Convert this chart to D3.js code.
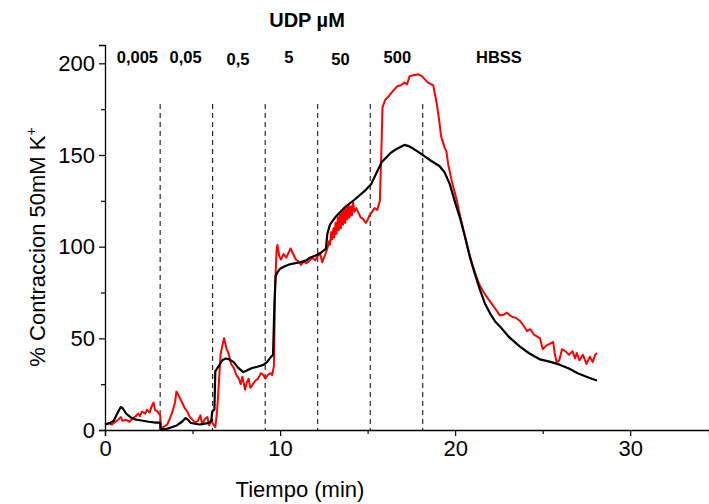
<!DOCTYPE html>
<html>
<head>
<meta charset="utf-8">
<script src="https://cdn.jsdelivr.net/npm/d3@7"></script>
<style>
  body { margin: 0; background: #fff; }
  text { font-family: "Liberation Sans", Arial, sans-serif; }
</style>
</head>
<body>
<svg id="chart" width="709" height="504"></svg>
<script>
// tiempo (min), % contraccion
var black_trace = [[0,3],[0.3,4],[0.5,5],[0.7,9],[0.9,12.5],[1.0,12],[1.2,9],[1.45,7],[1.7,5.8],[2.0,5.3],[2.5,4.5],[2.9,4],[3.15,4],[3.17,0.5],[3.5,0.5],[3.8,1.5],[4.1,2.5],[4.4,4.5],[4.6,6.5],[4.75,5.5],[4.9,3.8],[5.4,3],[5.8,3.6],[6.0,4.2],[6.08,5.5],[6.12,10],[6.2,11],[6.25,11],[6.3,32],[6.5,35],[6.7,38],[6.9,39],[7.1,38.5],[7.35,37],[7.6,34],[7.9,31.6],[8.1,32.5],[8.4,33.8],[8.7,34.5],[9.05,35.5],[9.25,37],[9.45,39.5],[9.6,41],[9.68,70],[9.75,84],[9.85,86],[10,88],[10.3,89.5],[10.6,90.5],[11.15,91.5],[11.5,92.5],[11.7,94],[12.0,95],[12.3,96.5],[12.5,98],[12.62,99],[12.7,107],[12.85,112],[13.15,116],[13.7,121.5],[14.3,126],[14.9,131],[15.2,134],[15.5,140],[15.8,146],[16.3,151],[16.6,153],[17.1,155.5],[17.3,155],[17.6,153.5],[18.0,151],[18.3,149],[18.6,147],[19.1,144],[19.4,140.5],[19.7,134],[20.0,124],[20.3,115],[20.6,104],[20.85,94],[21.1,86],[21.4,77],[21.7,69],[22.0,63.5],[22.3,59],[22.6,56],[23.1,50.5],[23.7,45.5],[24.2,42],[24.85,38.5],[25.5,37],[26.0,35.5],[26.5,33.5],[27.0,31],[27.5,29],[27.8,28],[28.1,27]];

var red_trace = [[0,3],[0.2,3.5],[0.4,3],[0.6,4.5],[0.8,6],[0.9,7],[1.0,5],[1.2,5.5],[1.4,4.5],[1.6,6.5],[1.75,7.5],[1.9,9],[2.0,7.5],[2.1,10],[2.3,9],[2.4,11],[2.55,9.5],[2.65,12.5],[2.77,15],[2.85,11],[3.0,10],[3.15,8],[3.2,1],[3.4,2],[3.55,3],[3.7,6],[3.85,10],[4.0,15],[4.08,21],[4.2,19],[4.4,15],[4.55,12],[4.7,10],[4.85,7],[5.0,5.5],[5.15,4],[5.3,5],[5.45,8],[5.55,3],[5.7,6],[5.85,7],[5.95,2.5],[6.05,5],[6.2,3],[6.3,1.5],[6.4,10],[6.5,25],[6.6,41],[6.7,46],[6.8,50],[6.85,48],[6.95,44],[7.05,42],[7.2,36],[7.35,34],[7.5,30],[7.65,28],[7.75,25],[7.85,29],[8.0,22],[8.1,26],[8.2,28],[8.3,23],[8.45,25],[8.6,27],[8.75,28],[8.9,31],[9.05,30],[9.15,28],[9.3,30],[9.45,31],[9.55,30],[9.65,35],[9.72,80],[9.8,98],[9.85,101],[9.95,95],[10.05,93],[10.2,96],[10.35,94],[10.5,97],[10.6,99],[10.75,96],[10.9,93],[11.05,92],[11.2,90],[11.35,92],[11.5,91],[11.7,92.5],[11.85,94],[12.0,92.5],[12.15,95],[12.3,96],[12.4,91.5],[12.55,95],[12.7,99],[12.8,103],[12.85,101],[12.92,108],[12.98,104],[13.05,110],[13.1,105],[13.17,113],[13.22,107],[13.3,116],[13.35,109],[13.42,118],[13.47,110],[13.55,120],[13.6,112],[13.67,121],[13.72,113],[13.8,122],[13.85,115],[13.92,123],[13.97,116],[14.05,122],[14.1,117],[14.17,124],[14.25,119],[14.35,121],[14.45,119],[14.6,116],[14.75,115],[14.9,113],[15.0,114.5],[15.1,117],[15.25,119],[15.4,121],[15.55,120],[15.7,125],[15.78,150],[15.85,176],[16.0,180],[16.2,182],[16.45,185],[16.7,187.5],[16.9,188],[17.1,189.5],[17.25,188.5],[17.4,193],[17.6,193.5],[17.9,194],[18.1,193],[18.3,191],[18.45,189.5],[18.75,188],[18.85,183],[18.95,178],[19.1,168],[19.2,160],[19.3,157],[19.4,154],[19.5,152],[19.6,145],[19.8,136],[20.1,125],[20.3,116],[20.45,110],[20.7,100],[20.96,91],[21.2,84],[21.4,79],[21.7,74],[22.0,70],[22.3,66],[22.55,62.5],[22.8,63],[22.95,64],[23.2,62],[23.5,61],[23.7,59.5],[23.9,57],[24.1,54],[24.3,55],[24.5,52],[24.85,50],[25.0,44],[25.2,46],[25.4,47],[25.6,48],[25.7,41],[25.8,37],[25.95,38],[26.1,44],[26.3,43],[26.5,41],[26.7,43],[26.85,39],[26.95,42],[27.1,38],[27.3,41],[27.5,36],[27.7,40],[27.85,37],[28.0,41],[28.1,42]];

// momentos de adicion (lineas discontinuas)
var additions = [3.15, 6.15, 9.15, 12.15, 15.15, 18.15];
var dose_labels = ["0,005", "0,05", "0,5", "5", "50", "500", "HBSS"];
var dose_times = [1.85, 4.6, 7.6, 10.5, 13.45, 16.7, 22.5];

var x_ticks = [0, 10, 20, 30];
var x_minor = [5, 15, 25];
var y_ticks = [0, 50, 100, 150, 200];
var y_minor = [25, 75, 125, 175];

var margin_left = 105
var axis_y = 430

var svg = d3.select("#chart")

var x = d3.scaleLinear().domain([0, 34.5]).range([margin_left, 709])
var y = d3.scaleLinear().domain([0, 210]).range([axis_y, 45])

/*******
* ejes *
*******/
var gx = svg.append("g").attr("transform", "translate(0," + axis_y + ")")
gx.call(d3.axisBottom(x).tickValues(x_ticks).tickSize(6).tickPadding(4).tickFormat(d3.format("d")))
gx.append("g").call(d3.axisBottom(x).tickValues(x_minor).tickSize(4).tickFormat(""))
gx.selectAll(".domain").attr("stroke", "#000").attr("stroke-width", 1.3)
gx.selectAll("text").attr("font-size", 22).attr("fill", "#000").attr("font-family", "Liberation Sans, Arial, sans-serif")
gx.selectAll("line").attr("stroke-width", 1.2)
gx.selectAll("g > g .domain").remove()

var gy = svg.append("g").attr("transform", "translate(" + margin_left + ",0)")
gy.call(d3.axisLeft(y).tickValues(y_ticks).tickSize(6).tickPadding(4).tickFormat(d3.format("d")))
gy.append("g").call(d3.axisLeft(y).tickValues(y_minor).tickSize(4).tickFormat(""))
gy.selectAll(".domain").attr("stroke", "#000").attr("stroke-width", 1.3)
gy.selectAll("text").attr("font-size", 22).attr("fill", "#000").attr("font-family", "Liberation Sans, Arial, sans-serif")
gy.selectAll("line").attr("stroke-width", 1.2)
gy.selectAll("g > g .domain").remove()

svg.append("text")
  .attr("x", 300).attr("y", 497)
  .attr("text-anchor", "middle")
  .attr("font-size", 22)
  .text("Tiempo (min)")

var ylab = svg.append("text")
  .attr("transform", "translate(45,247) rotate(-90)")
  .attr("text-anchor", "middle")
  .attr("font-size", 22)
ylab.append("tspan").text("% Contraccion 50mM K")
ylab.append("tspan").attr("dy", -9).attr("font-size", 14).text("+")

/*********
* marcas *
*********/
svg.append("g")
  .selectAll("line")
  .data(additions)
  .enter()
  .append("line")
  .attr("x1", d => x(d)).attr("x2", d => x(d))
  .attr("y1", 104).attr("y2", axis_y)
  .attr("stroke", "#000")
  .attr("stroke-width", 1)
  .attr("stroke-dasharray", "5,4")

svg.append("g")
  .selectAll("text")
  .data(dose_labels)
  .enter()
  .append("text")
  .attr("x", (d, i) => x(dose_times[i]))
  .attr("y", (d, i) => (i == 2 || i == 4) ? 65 : 62.5)
  .attr("text-anchor", "middle")
  .attr("font-size", 16.5)
  .attr("font-weight", "bold")
  .text(d => d)

svg.append("text")
  .attr("x", 307).attr("y", 27)
  .attr("text-anchor", "middle")
  .attr("font-size", 20)
  .attr("font-weight", "bold")
  .text("UDP µM")

var line = d3.line().x(d => x(d[0])).y(d => y(d[1]))

svg.append("path")
  .datum(red_trace)
  .attr("fill", "none")
  .attr("stroke", "#ff0000")
  .attr("stroke-width", 2)
  .attr("stroke-linejoin", "round")
  .attr("d", line)

svg.append("path")
  .datum(black_trace)
  .attr("fill", "none")
  .attr("stroke", "#000")
  .attr("stroke-width", 2.2)
  .attr("stroke-linejoin", "round")
  .attr("d", line)
</script>
</body>
</html>
